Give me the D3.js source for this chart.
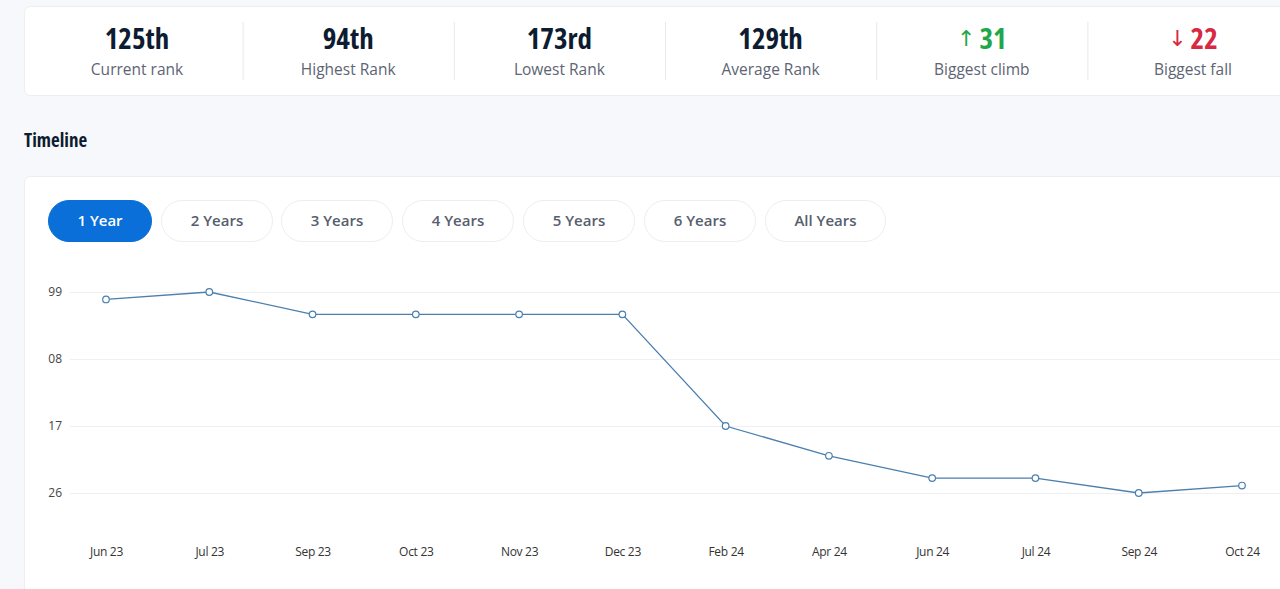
<!DOCTYPE html>
<html><head><meta charset="utf-8">
<script src="https://cdn.jsdelivr.net/npm/d3@7/dist/d3.min.js"></script>
<style>
html,body{margin:0;padding:0;background:#f6f8fb;overflow:hidden;}
svg{display:block;font-family:"Open Sans",sans-serif;}
</style></head><body>
<script>
const statValues = ["125th","94th","173rd","129th","31","22"];
const statLabels = ["Current rank","Highest Rank","Lowest Rank","Average Rank","Biggest climb","Biggest fall"];
const statArrows = ["","","","","up","down"];
const buttons = ["1 Year","2 Years","3 Years","4 Years","5 Years","6 Years","All Years"];
const categories = ["Jun 23","Jul 23","Sep 23","Oct 23","Nov 23","Dec 23","Feb 24","Apr 24","Jun 24","Jul 24","Sep 24","Oct 24"];
const ranks = [100,99,102,102,102,102,117,121,124,124,126,125];
const yTicks = [99,108,117,126];
const yTickLabels = ["99","08","17","26"];

const W=1280,H=589;
const svg=d3.select("body").append("svg").attr("width",W).attr("height",H);
svg.append("rect").attr("width",W).attr("height",H).attr("fill","#f6f8fb");

// stats card
svg.append("rect").attr("x",24.5).attr("y",6.5).attr("width",1300).attr("height",89).attr("rx",6)
  .attr("fill","#fff").attr("stroke","#eceef2");
const colW=211.2, col0=137;
const sg=svg.selectAll(".stat").data(statValues).join("g").attr("class","stat")
  .attr("transform",(d,i)=>`translate(${col0+i*colW},0)`);
sg.filter((d,i)=>i>0).append("line").attr("x1",-colW/2+0.5).attr("x2",-colW/2+0.5).attr("y1",22).attr("y2",80)
  .attr("stroke","#e6e8ec");
sg.each(function(d,i){
  const g=d3.select(this);
  const color = statArrows[i]==="up"?"#1fa84a":statArrows[i]==="down"?"#d92842":"#0d1c30";
  const t=g.append("text").attr("y",49).attr("text-anchor","middle")
    .attr("font-size",29).attr("font-weight",700)
    .style("font-stretch","75%").attr("fill",color);
  if(statArrows[i]){
    t.append("tspan").attr("font-size",22).attr("font-weight",400).attr("dy",-3)
      .style("font-family","DejaVu Sans").style("font-stretch","normal")
      .text(statArrows[i]==="up"?"↑":"↓");
    t.append("tspan").attr("dx",4).attr("dy",3).text(d);
  } else t.text(d);
  g.append("text").attr("y",75).attr("text-anchor","middle").attr("font-size",15.5).attr("font-weight",500)
    .attr("fill","#5d6473").text(statLabels[i]);
});

// Timeline title
svg.append("text").attr("x",24).attr("y",147).attr("font-size",19).attr("font-weight",700)
  .style("font-stretch","75%").attr("fill","#0d1c30").text("Timeline");

// chart card
svg.append("rect").attr("x",24.5).attr("y",176.5).attr("width",1300).attr("height",500).attr("rx",6)
  .attr("fill","#fff").attr("stroke","#eceef2");

// buttons
const btnX=[48,161,281,402,523,644,765], btnW=[104,112,112,112,112,112,121];
const bg=svg.selectAll(".btn").data(buttons).join("g").attr("class","btn")
  .attr("transform",(d,i)=>`translate(${btnX[i]},200)`);
bg.append("rect").attr("x",0.5).attr("y",0.5).attr("width",(d,i)=>btnW[i]-1).attr("height",41).attr("rx",20.5)
  .attr("fill",(d,i)=>i===0?"#0a6fd8":"#fff").attr("stroke",(d,i)=>i===0?"#0a6fd8":"#eceef2");
bg.append("text").attr("x",(d,i)=>btnW[i]/2).attr("y",26).attr("text-anchor","middle")
  .attr("font-size",15).attr("font-weight",600)
  .attr("fill",(d,i)=>i===0?"#fff":"#575e6e").text(d=>d);

// chart
const x=d3.scalePoint().domain(categories).range([106,1242]);
const y=d3.scaleLinear().domain([99,126]).range([292,493]);

const yAxis=d3.axisLeft(y).tickValues(yTicks).tickSize(0).tickPadding(8)
  .tickFormat((d,i)=>yTickLabels[i]);
const ya=svg.append("g").attr("transform","translate(70,0)").call(yAxis);
ya.select(".domain").remove();
ya.selectAll("text").attr("font-size",12).attr("fill","#444").attr("font-family","Open Sans");
svg.append("g").selectAll("line").data(yTicks).join("line")
  .attr("x1",70).attr("x2",W).attr("y1",d=>Math.round(y(d))+0.5).attr("y2",d=>Math.round(y(d))+0.5)
  .attr("stroke","#eef0f4");

const xAxis=d3.axisBottom(x).tickSize(0).tickPadding(0);
const xa=svg.append("g").attr("transform","translate(0,547)").call(xAxis);
xa.select(".domain").remove();
xa.selectAll("text").attr("font-size",12).attr("fill","#333").attr("font-family","Open Sans")
  .style("letter-spacing","-0.3px");

const line=d3.line().x((d,i)=>x(categories[i])).y(d=>y(d));
svg.append("path").datum(ranks).attr("d",line).attr("fill","none").attr("stroke","#4a7fae").attr("stroke-width",1.3);
svg.selectAll(".pt").data(ranks).join("circle").attr("class","pt")
  .attr("cx",(d,i)=>x(categories[i])).attr("cy",d=>y(d)).attr("r",3.3)
  .attr("fill","#fff").attr("stroke","#4a7fae").attr("stroke-width",1.2);
</script>
</body></html>
